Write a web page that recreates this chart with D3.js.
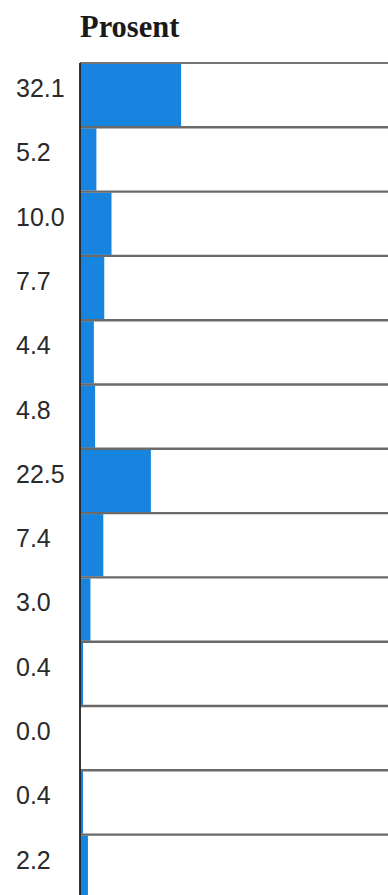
<!DOCTYPE html>
<html>
<head>
<meta charset="utf-8">
<script src="https://cdn.jsdelivr.net/npm/d3@7"></script>
<style>
  html,body{margin:0;padding:0;background:#fff;}
  svg{display:block;}
</style>
</head>
<body>
<div id="chart"></div>
<script>
const values=[32.1,5.2,10.0,7.7,4.4,4.8,22.5,7.4,3.0,0.4,0.0,0.4,2.2];
const labels=values.map(v=>v.toFixed(1));
const title='Prosent';

(function(){
const W=388,H=895;
const y0=63,rowH=64.3,left=80;
const svg=d3.select('#chart').append('svg').attr('width',W).attr('height',H);

const y=d3.scaleBand().domain(d3.range(values.length)).range([y0,y0+rowH*values.length]).padding(0);
const x=d3.scaleLinear().domain([0,100]).range([left,left+315]);

// bars
svg.selectAll('.bar').data(values).join('rect').attr('class','bar')
  .attr('x',x(0)).attr('y',(d,i)=>y(i)+1)
  .attr('width',d=>d>0?Math.max(3,x(d)-x(0)+(d<4?1:0)):0)
  .attr('height',y.bandwidth()-2)
  .attr('fill','#1784e0');

// row lines
const bounds=d3.range(values.length+1).map(i=>i<values.length?y(i):y(values.length-1)+y.bandwidth());
svg.selectAll('.rl').data(bounds).join('line').attr('class','rl')
  .attr('x1',left).attr('x2',W).attr('y1',d=>d).attr('y2',d=>d)
  .attr('stroke',(d,i)=>i===0?'#444':'#6a6a6a').attr('stroke-width',(d,i)=>i===0?1.6:2.4);

// vertical axis
svg.append('line').attr('x1',left).attr('x2',left).attr('y1',y0).attr('y2',H)
  .attr('stroke','#222').attr('stroke-width',1.8);

// labels
svg.selectAll('.lbl').data(labels).join('text').attr('class','lbl')
  .attr('x',16).attr('y',(d,i)=>y(i)+34)
  .attr('font-family','Liberation Sans, Arial, sans-serif').attr('font-size',25).attr('fill','#2a2a2a')
  .text(d=>d);

// title
svg.append('text').attr('x',80).attr('y',37)
  .attr('font-family','Liberation Serif, Times New Roman, serif').attr('font-weight','bold')
  .attr('font-size',30.5).attr('fill','#1a1a1a').text(title);
})();
</script>
</body>
</html>
